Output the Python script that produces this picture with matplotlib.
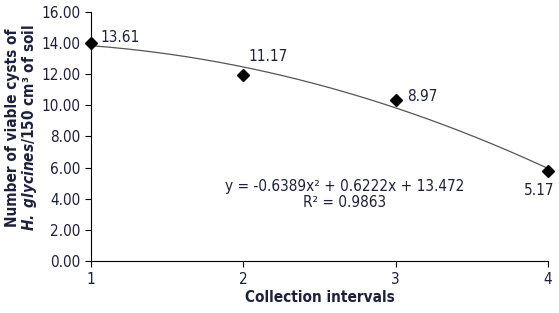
import matplotlib
matplotlib.use('Agg')
import matplotlib.pyplot as plt
import numpy as np

# data
intervals = [1, 2, 3, 4]
cysts = [14.0, 11.95, 10.35, 5.78]
point_labels = ['13.61', '11.17', '8.97', '5.17']
equation = 'y = -0.6389x² + 0.6222x + 13.472\nR² = 0.9863'

plt.rcParams['font.family'] = ['DejaVu Sans']
plt.rcParams['font.stretch'] = 'condensed'
plt.rcParams['mathtext.fontset'] = 'custom'
plt.rcParams['mathtext.rm'] = 'DejaVu Sans:stretch=condensed'
plt.rcParams['mathtext.bf'] = 'DejaVu Sans:stretch=condensed:weight=bold'
plt.rcParams['mathtext.bfit'] = 'DejaVu Sans:stretch=condensed:weight=bold:slant=italic'

txt = '#1c2038'
fs = 11

fig = plt.figure(figsize=(5.59, 3.13), dpi=100)
ax = fig.add_axes([0.163, 0.166, 0.817, 0.796])

# polynomial trend line (order 2) through the points
coef = np.polyfit(intervals, cysts, 2)
xs = np.linspace(1, 4, 200)
ax.plot(xs, np.polyval(coef, xs), color='#555555', lw=0.9, zorder=2)
ax.plot(intervals, cysts, 'D', color='black', ms=6.5, zorder=3, clip_on=False)

offsets = [(6.5, 4.3), (3.6, 13), (8.6, 2.2), (-6.5, -13.7)]
aligns = ['left', 'left', 'left', 'center']
for x, y, s, off, ha in zip(intervals, cysts, point_labels, offsets, aligns):
    ax.annotate(s, (x, y), xytext=off, textcoords='offset points',
                fontsize=fs, color=txt, ha=ha, va='center', annotation_clip=False)

ax.text(0.556, 0.267, equation, transform=ax.transAxes, ha='center',
        va='center', fontsize=fs, color=txt, linespacing=1.15)

ax.set_xlim(1, 4)
ax.set_ylim(0, 16)
ax.set_xticks(intervals)
ax.set_yticks(np.arange(0, 17, 2))
ax.set_yticklabels(['%.2f' % v for v in np.arange(0, 17, 2)])
for sp in ['top', 'right']:
    ax.spines[sp].set_visible(False)
ax.tick_params(direction='out', length=4, labelsize=fs, colors='black',
               labelcolor=txt)
ax.tick_params(axis='x', pad=4)

ax.set_xlabel('Collection intervals', fontsize=fs, fontweight='bold', color=txt)
ax.xaxis.set_label_coords(0.5, -0.115)
ax.set_ylabel('Number of viable cysts of\n$\\mathbfit{H.\\ glycines}$/150 cm³ of soil',
              fontsize=fs, fontweight='bold', color=txt, linespacing=1.0)
ax.yaxis.set_label_coords(-0.115, 0.534)

fig.savefig('out.png', dpi=100)
